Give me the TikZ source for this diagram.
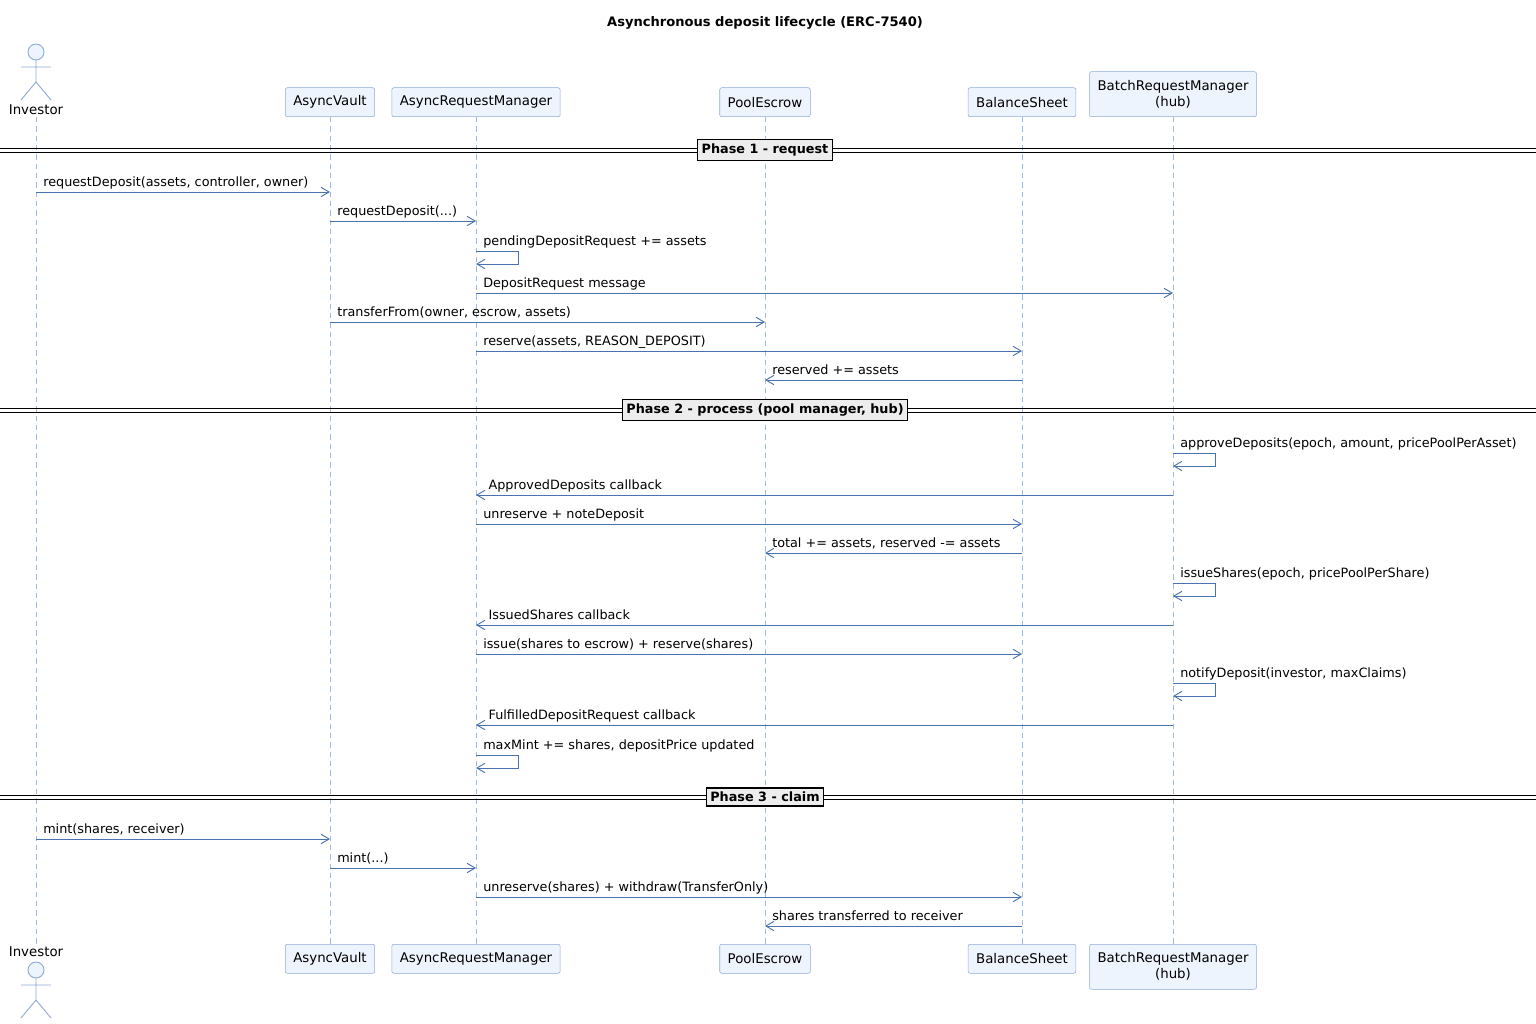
\documentclass[tikz,border=0pt]{standalone}
\usepackage{fontspec}
\setmainfont{DejaVu Sans}
\usetikzlibrary{arrows.meta}
\definecolor{ln}{HTML}{4A72B0}
\definecolor{ll}{HTML}{9DBCE0}
\definecolor{pf}{HTML}{EEF4FD}
\definecolor{pb}{HTML}{8FAAD6}
\tikzset{
 part/.style={draw=pb,fill=pf,rounded corners=1.5pt,minimum height=29*0.75pt,inner xsep=6pt,align=center,font=\fontsize{10}{12}\selectfont},
 life/.style={draw=ll,dash pattern=on 4pt off 3pt,line width=0.6pt},
 msg/.style={draw=ln,line width=0.7pt,-{Straight Barb[length=6pt,width=7pt]}},
 lab/.style={anchor=base west,inner sep=0,font=\fontsize{9.6}{11}\selectfont},
 phase/.style={draw=black,line width=1pt,fill=black!7,font=\bfseries\fontsize{9.6}{11}\selectfont,inner sep=3pt},
 actor/.style={draw=pb,fill=pf,line width=0.7pt}
}
\newcommand{\msgline}[4]{\draw[msg] (#2,#1) -- (#3,#1);
 \pgfmathsetmacro\lx{min(#2,#3)+7}\node[lab] at (\lx,#1-6) {#4};}
\newcommand{\selfmsg}[3]{\draw[msg] (#2,#1) -- (#2+42,#1) -- (#2+42,#1+13) -- (#2,#1+13);
 \node[lab] at (#2+7,#1-6) {#3};}
\newcommand{\phaseline}[2]{\draw[black,line width=0.7pt] (0,#1-2) -- (1536,#1-2) (0,#1+2) -- (1536,#1+2);
 \node[phase] at (765,#1) {#2};}
\newcommand{\actorfig}[2]{% x, top y
 \draw[actor] (#1,#2+8) circle (8*0.75pt);
 \draw[pb,line width=0.7pt] (#1,#2+16) -- (#1,#2+38) (#1-15,#2+23) -- (#1+15,#2+23)
 (#1-15,#2+56) -- (#1,#2+38) -- (#1+15,#2+56);}
\begin{document}
\begin{tikzpicture}[x=0.75pt,y=-0.75pt]
\useasboundingbox (0,0) rectangle (1536,1024);
\node[font=\bfseries\fontsize{9.8}{12}\selectfont] (title) at (765,23) {Asynchronous deposit lifecycle (ERC-7540)};
% lifelines
\foreach \x in {36,330,476,765,1022,1173} \draw[life] (\x,117) -- (\x,944);
% top participants
\actorfig{36}{44}
\node[font=\fontsize{10}{12}\selectfont] (invT) at (36,110) {Investor};
\node[part,anchor=south] (avT) at (330,117) {AsyncVault};
\node[part,anchor=south] (armT) at (476,117) {AsyncRequestManager};
\node[part,anchor=south] (peT) at (765,117) {PoolEscrow};
\node[part,anchor=south] (bsT) at (1022,117) {BalanceSheet};
\node[part,anchor=south,minimum height=45*0.75pt] (brmT) at (1173,117) {BatchRequestManager\\(hub)};
% bottom participants
\node[font=\fontsize{10}{12}\selectfont] (invB) at (36,952) {Investor};
\actorfig{36}{962}
\node[part,anchor=north] (avB) at (330,944) {AsyncVault};
\node[part,anchor=north] (armB) at (476,944) {AsyncRequestManager};
\node[part,anchor=north] (peB) at (765,944) {PoolEscrow};
\node[part,anchor=north] (bsB) at (1022,944) {BalanceSheet};
\node[part,anchor=north,minimum height=45*0.75pt] (brmB) at (1173,944) {BatchRequestManager\\(hub)};
% phase 1
\phaseline{150}{Phase 1 - request }
\msgline{192}{36}{330}{requestDeposit(assets, controller, owner)}
\msgline{221}{330}{476}{requestDeposit(...)}
\selfmsg{251}{476}{pendingDepositRequest += assets}
\msgline{293}{476}{1173}{DepositRequest message}
\msgline{322}{330}{765}{transferFrom(owner, escrow, assets)}
\msgline{351}{476}{1022}{reserve(assets, REASON\_DEPOSIT)}
\msgline{380}{1022}{765}{reserved += assets}
% phase 2
\phaseline{410}{Phase 2 - process (pool manager, hub)}
\selfmsg{453}{1173}{approveDeposits(epoch, amount, pricePoolPerAsset)}
\msgline{495}{1173}{476}{\hspace{10\pgflinewidth}ApprovedDeposits callback}
\msgline{524}{476}{1022}{unreserve + noteDeposit}
\msgline{553}{1022}{765}{total += assets, reserved -= assets}
\selfmsg{583}{1173}{issueShares(epoch, pricePoolPerShare)}
\msgline{625}{1173}{476}{\hspace{10\pgflinewidth}IssuedShares callback}
\msgline{654}{476}{1022}{issue(shares to escrow) + reserve(shares)}
\selfmsg{683}{1173}{notifyDeposit(investor, maxClaims)}
\msgline{725}{1173}{476}{\hspace{10\pgflinewidth}FulfilledDepositRequest callback}
\selfmsg{755}{476}{maxMint += shares, depositPrice updated}
% phase 3
\phaseline{797}{Phase 3 - claim }
\msgline{839}{36}{330}{mint(shares, receiver)}
\msgline{868}{330}{476}{mint(...)}
\msgline{897}{476}{1022}{unreserve(shares) + withdraw(TransferOnly)}
\msgline{926}{1022}{765}{shares transferred to receiver}
\end{tikzpicture}
\end{document}
